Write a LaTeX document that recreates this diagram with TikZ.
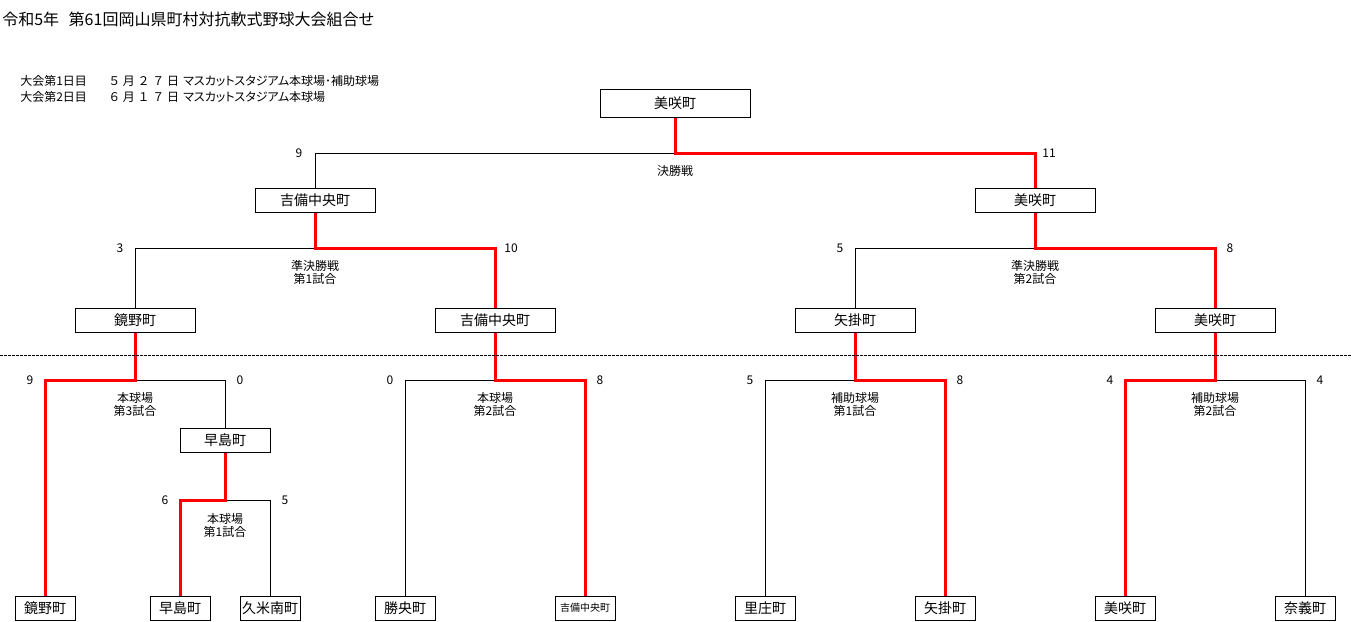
\documentclass[tikz,border=0pt]{standalone}
\usepackage{fontspec}
\setmainfont{Noto Sans CJK JP}
\newfontfamily\jpp{Noto Sans CJK JP}[RawFeature=+palt]
\begin{document}
\begin{tikzpicture}[x=0.75pt,y=-0.75pt,
  team/.style={draw=black,line width=0.75pt,inner sep=0pt,minimum height=18pt,font=\fontsize{10.5pt}{12pt}\selectfont},
  wide/.style={minimum width=90pt},
  mid/.style={minimum width=67.5pt},
  narrow/.style={minimum width=45pt},
  blk/.style={draw=black,line width=0.75pt},
  win/.style={draw=red,line width=2.25pt},
  score/.style={inner sep=0pt,font=\fontsize{9pt}{9pt}\selectfont},
  match/.style={inner sep=0pt,align=center,font=\fontsize{9pt}{9.75pt}\selectfont},
  info/.style={inner sep=0pt,anchor=west,font=\fontsize{9pt}{9pt}\selectfont}]
\useasboundingbox (0,0) rectangle (1351,621);
\fill[white] (0,0) rectangle (1351,621);

% title and info
\node[inner sep=0pt,anchor=west,font=\fontsize{12pt}{12pt}\selectfont] (title) at (2,19) {令和5年\hspace{0.6em}第61回岡山県町村対抗軟式野球大会組合せ};
\node[info] (d1a) at (20,81) {大会第1日目};
\node[info] (d1b) at (108,81) {５ 月 ２ ７ 日};
\node[info] (d1c) at (183,81) {\jpp マスカットスタジアム本球場･補助球場};
\node[info] (d2a) at (20,97) {大会第2日目};
\node[info] (d2b) at (108,97) {６ 月 １ ７ 日};
\node[info] (d2c) at (183,97) {\jpp マスカットスタジアム本球場};

% champion
\node[team,minimum width=112.5pt,minimum height=21pt] (top) at (675,103) {美咲町};
% semifinal winners
\node[team,wide] (s1) at (315,200) {吉備中央町};
\node[team,wide] (s2) at (1035,200) {美咲町};
% quarter winners
\node[team,wide] (q1) at (135,320) {鏡野町};
\node[team,wide] (q2) at (495,320) {吉備中央町};
\node[team,wide] (q3) at (855,320) {矢掛町};
\node[team,wide] (q4) at (1215,320) {美咲町};
% first-round winner
\node[team,mid] (m1) at (225,440) {早島町};
% entrants
\node[team,narrow] (t1) at (45,608) {鏡野町};
\node[team,narrow] (t2) at (180,608) {早島町};
\node[team,narrow] (t3) at (270,608) {久米南町};
\node[team,narrow] (t4) at (405,608) {勝央町};
\node[team,narrow,font=\fontsize{7.5pt}{9pt}\selectfont] (t5) at (585,608) {吉備中央町};
\node[team,narrow] (t6) at (765,608) {里庄町};
\node[team,narrow] (t7) at (945,608) {矢掛町};
\node[team,narrow] (t8) at (1125,608) {美咲町};
\node[team,narrow] (t9) at (1305,608) {奈義町};

% junctions
\coordinate (f) at (675,153);
\coordinate (a) at (315,248);
\coordinate (b) at (1035,248);
\coordinate (c1) at (135,380);
\coordinate (c0) at (225,500);
\coordinate (c2) at (495,380);
\coordinate (c3) at (855,380);
\coordinate (c4) at (1215,380);

% losers' lines
\draw[blk] (f) -| (s1.north);
\draw[blk] (a) -| (q1.north);
\draw[blk] (b) -| (q3.north);
\draw[blk] (c1) -| (m1.north);
\draw[blk] (c0) -| (t3.north);
\draw[blk] (c2) -| (t4.north);
\draw[blk] (c3) -| (t6.north);
\draw[blk] (c4) -| (t9.north);

% winners' lines
\draw[win] (top.south) -- (f) -| (s2.north);
\draw[win] (s1.south) -- (a) -| (q2.north);
\draw[win] (s2.south) -- (b) -| (q4.north);
\draw[win] (q1.south) -- (c1) -| (t1.north);
\draw[win] (m1.south) -- (c0) -| (t2.north);
\draw[win] (q2.south) -- (c2) -| (t5.north);
\draw[win] (q3.south) -- (c3) -| (t7.north);
\draw[win] (q4.south) -- (c4) -| (t8.north);

% dashed separator
\coordinate (dl) at (0,355);
\coordinate (dr) at (1351,355);
\draw[black,line width=0.6pt,dash pattern=on 2pt off 1pt] (dl) -- (dr);

% scores
\node[score] (sc1) at (299,153) {9};
\node[score] (sc2) at (1049,153) {11};
\node[score] (sc3) at (120,248) {3};
\node[score] (sc4) at (511,248) {10};
\node[score] (sc5) at (840,248) {5};
\node[score] (sc6) at (1230,248) {8};
\node[score] (sc7) at (30,380) {9};
\node[score] (sc8) at (240,380) {0};
\node[score] (sc9) at (165,500) {6};
\node[score] (sc10) at (285,500) {5};
\node[score] (sc11) at (390,380) {0};
\node[score] (sc12) at (600,380) {8};
\node[score] (sc13) at (750,380) {5};
\node[score] (sc14) at (960,380) {8};
\node[score] (sc15) at (1110,380) {4};
\node[score] (sc16) at (1320,380) {4};

% match labels
\node[match] (mf) at (675,171) {決勝戦};
\node[match] (ms1) at (315,272) {準決勝戦\\第1試合};
\node[match] (ms2) at (1035,272) {準決勝戦\\第2試合};
\node[match] (mq1) at (135,404) {本球場\\第3試合};
\node[match] (mr1) at (225,525) {本球場\\第1試合};
\node[match] (mq2) at (495,404) {本球場\\第2試合};
\node[match] (mq3) at (855,404) {補助球場\\第1試合};
\node[match] (mq4) at (1215,404) {補助球場\\第2試合};
\end{tikzpicture}
\end{document}
